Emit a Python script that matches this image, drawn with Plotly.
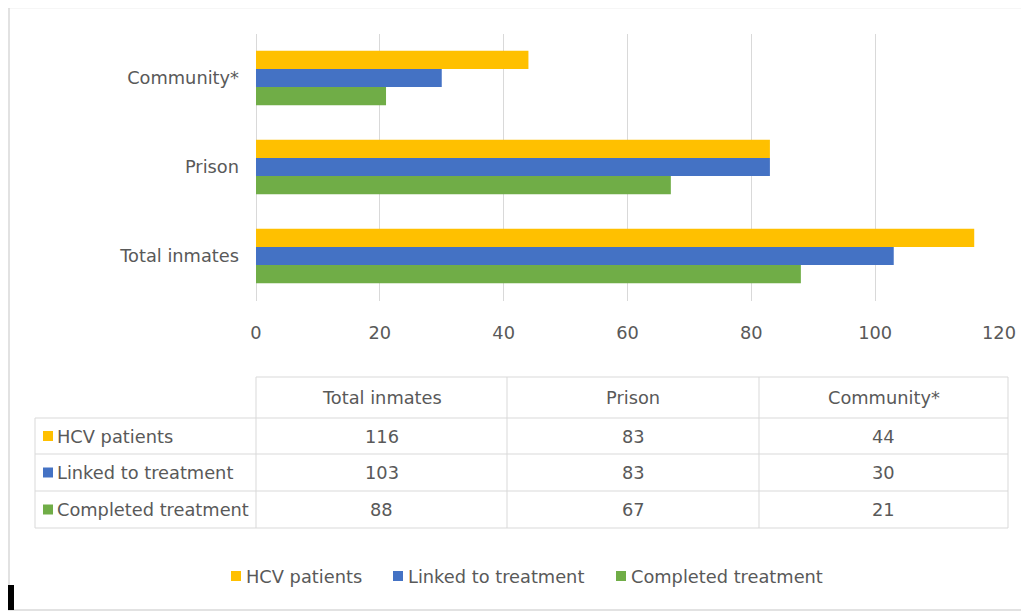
import plotly.graph_objects as go

# ---- data ----
categories = ["Total inmates", "Prison", "Community*"]
series_names = ["HCV patients", "Linked to treatment", "Completed treatment"]
hcv_patients = [116, 83, 44]
linked_to_treatment = [103, 83, 30]
completed_treatment = [88, 67, 21]
x_ticks = [0, 20, 40, 60, 80, 100, 120]

series_values = [hcv_patients, linked_to_treatment, completed_treatment]
colors = ["#FFC000", "#4472C4", "#70AD47"]

OFF = 8  # page body margin
W, H = 1029 - OFF, 613 - OFF
FONT = "DejaVu Sans"
FS = 17.8
TXT = "#595959"
LINE = "#d9d9d9"


def px(x):
    return (x - OFF) / W


def py(y):
    return 1 - (y - OFF) / H


fig = go.Figure()
# add in reverse so that the first series sits on top within each group
for name, vals, col in reversed(list(zip(series_names, series_values, colors))):
    fig.add_trace(go.Bar(
        y=categories, x=vals, name=name, orientation="h",
        marker=dict(color=col, line=dict(width=0)), showlegend=False,
    ))

shapes = []
annotations = []

# outer frame
shapes += [
    dict(type="line", xref="paper", yref="paper", x0=px(8), x1=px(1029), y0=py(7.5), y1=py(7.5),
         line=dict(color=LINE, width=1.5)),
    dict(type="line", xref="paper", yref="paper", x0=px(9), x1=px(9), y0=py(7), y1=py(610),
         line=dict(color=LINE, width=1.5)),
    dict(type="line", xref="paper", yref="paper", x0=px(8), x1=px(1029), y0=py(610), y1=py(610),
         line=dict(color=LINE, width=1.5)),
    dict(type="rect", xref="paper", yref="paper", x0=px(8), x1=px(14), y0=py(585), y1=py(610),
         fillcolor="black", line=dict(width=0)),
]

# data table
col_edges = [256, 507, 759, 1008]
row_edges = [377, 418, 454, 491, 528]
tbl_left = 35
shapes.append(dict(type="line", xref="paper", yref="paper", x0=px(col_edges[0]), x1=px(col_edges[-1]),
                   y0=py(row_edges[0]), y1=py(row_edges[0]), line=dict(color=LINE, width=1)))
for yy in row_edges[1:]:
    shapes.append(dict(type="line", xref="paper", yref="paper", x0=px(tbl_left), x1=px(col_edges[-1]),
                       y0=py(yy), y1=py(yy), line=dict(color=LINE, width=1)))
shapes.append(dict(type="line", xref="paper", yref="paper", x0=px(tbl_left), x1=px(tbl_left),
                   y0=py(row_edges[1]), y1=py(row_edges[-1]), line=dict(color=LINE, width=1)))
for xx in col_edges:
    shapes.append(dict(type="line", xref="paper", yref="paper", x0=px(xx), x1=px(xx),
                       y0=py(row_edges[0]), y1=py(row_edges[-1]), line=dict(color=LINE, width=1)))

for i, cat in enumerate(categories):
    cx = (col_edges[i] + col_edges[i + 1]) / 2
    cy = (row_edges[0] + row_edges[1]) / 2
    annotations.append(dict(xref="paper", yref="paper", x=px(cx), y=py(cy), text=cat, showarrow=False,
                            xanchor="center", yanchor="middle", font=dict(family=FONT, size=FS, color=TXT)))
for r, (name, vals, col) in enumerate(zip(series_names, series_values, colors)):
    cy = (row_edges[r + 1] + row_edges[r + 2]) / 2
    shapes.append(dict(type="rect", xref="paper", yref="paper", x0=px(43), x1=px(53),
                       y0=py(cy - 5), y1=py(cy + 5), fillcolor=col, line=dict(width=0)))
    annotations.append(dict(xref="paper", yref="paper", x=px(55), y=py(cy), text=name, showarrow=False,
                            xanchor="left", yanchor="middle", font=dict(family=FONT, size=FS, color=TXT)))
    for i, v in enumerate(vals):
        cx = (col_edges[i] + col_edges[i + 1]) / 2
        annotations.append(dict(xref="paper", yref="paper", x=px(cx), y=py(cy), text=str(v), showarrow=False,
                                xanchor="center", yanchor="middle", font=dict(family=FONT, size=FS, color=TXT)))

# legend (manual, to match layout)
legend_square_x = [231, 393, 616]
legend_y = 576
for name, col, sx in zip(series_names, colors, legend_square_x):
    shapes.append(dict(type="rect", xref="paper", yref="paper", x0=px(sx), x1=px(sx + 10),
                       y0=py(legend_y - 5), y1=py(legend_y + 5), fillcolor=col, line=dict(width=0)))
    annotations.append(dict(xref="paper", yref="paper", x=px(sx + 13), y=py(legend_y), text=name,
                            showarrow=False, xanchor="left", yanchor="middle",
                            font=dict(family=FONT, size=FS, color=TXT)))

fig.update_layout(
    width=W, height=H,
    margin=dict(l=0, r=0, t=0, b=0, autoexpand=False),
    paper_bgcolor="white", plot_bgcolor="white",
    barmode="group", bargap=0.39, bargroupgap=0,
    font=dict(family=FONT, size=FS, color=TXT),
    shapes=shapes, annotations=annotations,
    showlegend=False,
    xaxis=dict(domain=[px(256), px(999)], range=[0, 120], tickvals=x_ticks,
               ticktext=[str(t) for t in x_ticks],
               showgrid=True, gridcolor=LINE, gridwidth=1,
               zeroline=True, zerolinecolor=LINE, zerolinewidth=1,
               showline=False, ticks="", automargin=False, ticklabelstandoff=20,
               tickfont=dict(family=FONT, size=FS, color=TXT), fixedrange=True),
    yaxis=dict(domain=[py(300.5), py(33.5)], type="category", categoryorder="array",
               categoryarray=categories, showgrid=False, zeroline=False, showline=False,
               ticks="", automargin=False, ticklabelstandoff=16,
               tickfont=dict(family=FONT, size=FS, color=TXT), fixedrange=True),
)

fig.write_html("out.html")
